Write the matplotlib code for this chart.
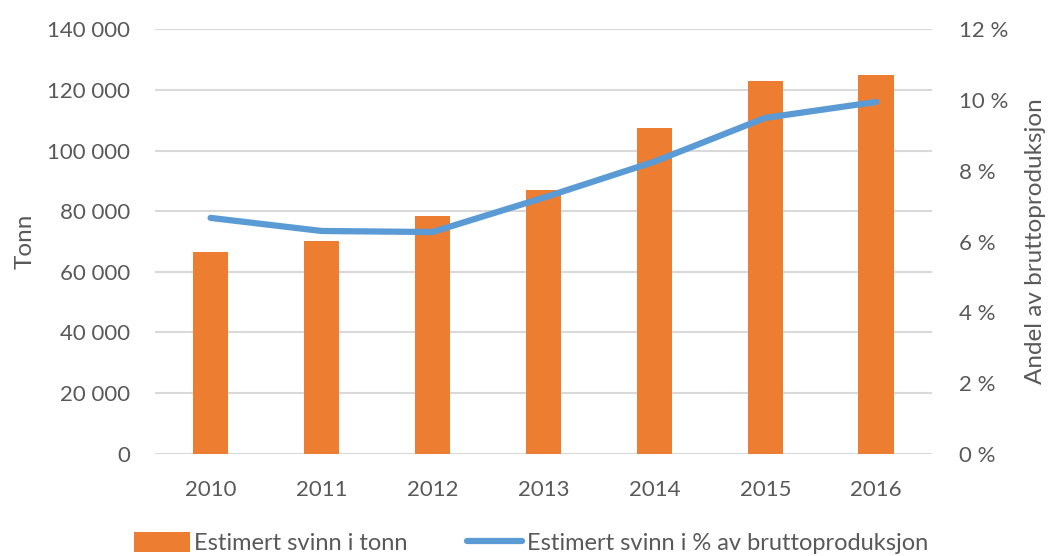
import matplotlib
matplotlib.use("Agg")
import matplotlib.pyplot as plt
from matplotlib.ticker import FuncFormatter

years = ["2010", "2011", "2012", "2013", "2014", "2015", "2016"]
tonn = [66500, 70200, 78400, 87100, 107500, 123000, 124900]
andel = [6.67, 6.30, 6.27, 7.24, 8.26, 9.50, 9.95]

plt.rcParams['font.family'] = ['Lato', 'DejaVu Sans']
grey = '#595959'

fig = plt.figure(figsize=(10.48, 5.56), dpi=100)
ax = fig.add_axes([0.148, 0.184, 0.741, 0.763])
x = list(range(len(years)))
bars = ax.bar(x, tonn, width=0.32, color='#ED7D31', label='Estimert svinn i tonn', zorder=3)
ax.set_xlim(-0.5, 6.5)
ax.set_ylim(0, 140000)
ax.set_yticks(range(0, 140001, 20000))
ax.yaxis.set_major_formatter(FuncFormatter(lambda v, p: f"{int(v):,}".replace(",", " ")))
ax.set_xticks(x)
ax.set_xticklabels(years)
ax.grid(axis='y', color='#d9d9d9', linewidth=1.5, zorder=0)
ax.set_axisbelow(True)
for s in ax.spines.values():
    s.set_visible(False)
ax.tick_params(axis='both', length=0, labelsize=16, colors=grey)
ax.tick_params(axis='y', pad=18)
ax.tick_params(axis='x', pad=19)
ax.set_ylabel('Tonn', fontsize=17.5, color=grey, labelpad=8)

ax2 = ax.twinx()
line, = ax2.plot(x, andel, color='#5B9BD5', linewidth=4.5, solid_capstyle='round',
                 solid_joinstyle='round', label='Estimert svinn i % av bruttoproduksjon', zorder=4)
ax2.set_ylim(0, 12)
ax2.set_yticks(range(0, 13, 2))
ax2.yaxis.set_major_formatter(FuncFormatter(lambda v, p: f"{int(v)} %"))
for s in ax2.spines.values():
    s.set_visible(False)
ax2.tick_params(axis='y', length=0, labelsize=16, colors=grey, pad=20)
ax2.set_ylabel('Andel av bruttoproduksjon', fontsize=17.5, color=grey, labelpad=12)

fig.legend([bars, line], ['Estimert svinn i tonn', 'Estimert svinn i % av bruttoproduksjon'],
           loc='lower center', bbox_to_anchor=(0.507, -0.035), ncol=2, frameon=False,
           fontsize=17, labelcolor=grey, handlelength=2.35, handleheight=0.9, handletextpad=0.2,
           columnspacing=2.5)

fig.savefig('out.png', dpi=100)
